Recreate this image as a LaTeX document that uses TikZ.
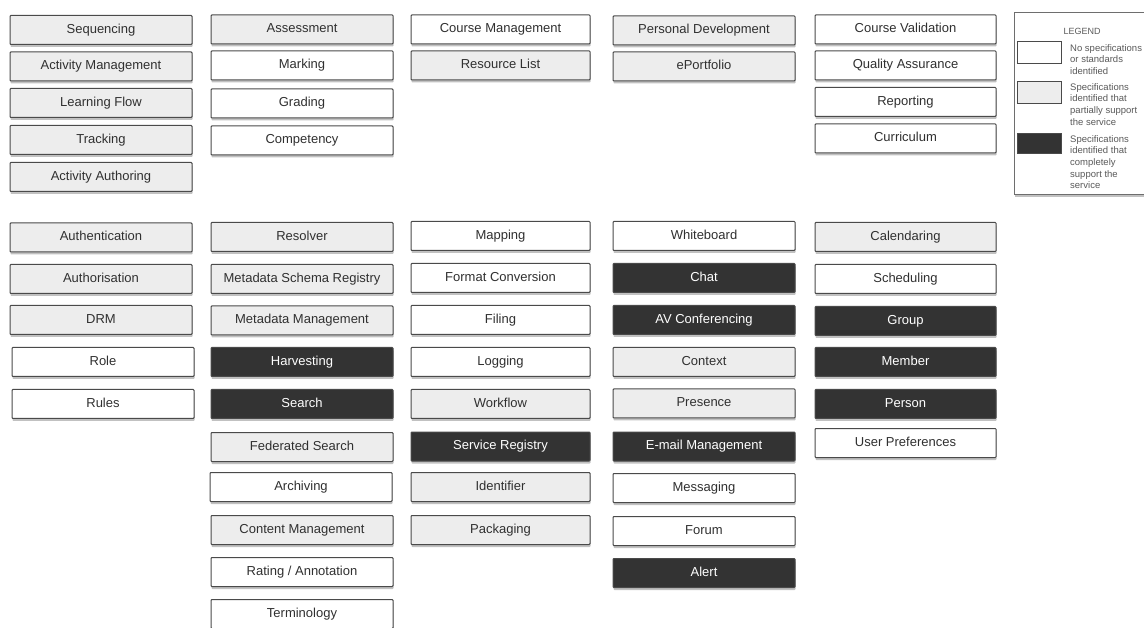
\documentclass[tikz,border=0pt]{standalone}
\usepackage{fontspec}
\setmainfont{Liberation Sans}
\usetikzlibrary{shadows}
\definecolor{lightfill}{HTML}{EDEDED}
\definecolor{darkfill}{HTML}{333333}
\definecolor{edge}{HTML}{4A4A4A}
\definecolor{txt}{HTML}{303030}
\definecolor{legtxt}{HTML}{5A5A5A}
\tikzset{
  svc/.style={draw=edge, line width=1pt, rounded corners=0.8pt, minimum height=29pt, inner sep=0pt,
    text height=9.4pt, text depth=2.6pt,
    font=\fontsize{13}{15}\selectfont, text=txt,
    drop shadow={shadow xshift=0.5pt, shadow yshift=-2.5pt, opacity=0.4, fill=black!60}},
  wbox/.style={svc, fill=white},
  gbox/.style={svc, fill=lightfill},
  dbox/.style={svc, fill=darkfill, text=white},
  cA/.style={minimum width=182pt},
  cB/.style={minimum width=182pt},
  cC/.style={minimum width=179pt},
  cD/.style={minimum width=182pt},
  cE/.style={minimum width=181pt},
  legtext/.style={anchor=north west, inner sep=0pt, align=left, text=legtxt, font=\fontsize{9.5}{11.7}\selectfont},
  swatch/.style={draw=edge, line width=0.9pt, minimum width=44pt, minimum height=22pt, inner sep=0pt}
}
\begin{document}
\begin{tikzpicture}[x=1pt,y=-1pt]
\useasboundingbox (0,0) rectangle (1144,628);
\clip (0,0) rectangle (1144,628);
\fill[white] (0,0) rectangle (1144,628);
% ---- top block ----
\node[gbox,cA] (seq) at (101,30) {Sequencing};
\node[gbox,cA] (actm) at (101,66.5) {Activity Management};
\node[gbox,cA] (lflow) at (101,103) {Learning Flow};
\node[gbox,cA] (track) at (101,140) {Tracking};
\node[gbox,cA] (acta) at (101,177) {Activity Authoring};

\node[gbox,cB] (assess) at (302,29.5) {Assessment};
\node[wbox,cB] (mark) at (302,65.5) {Marking};
\node[wbox,cB] (grade) at (302,103.5) {Grading};
\node[wbox,cB] (comp) at (302,140.5) {Competency};

\node[wbox,cC] (coursem) at (500.5,29.5) {Course Management};
\node[gbox,cC] (reslist) at (500.5,65.5) {Resource List};

\node[gbox,cD] (persdev) at (704,30.5) {Personal Development};
\node[gbox,cD] (eport) at (704,66.5) {ePortfolio};

\node[wbox,cE] (coursev) at (905.5,29.5) {Course Validation};
\node[wbox,cE] (qa) at (905.5,65.5) {Quality Assurance};
\node[wbox,cE] (report) at (905.5,102) {Reporting};
\node[wbox,cE] (curr) at (905.5,138.5) {Curriculum};

% ---- bottom block ----
\node[gbox,cA] (authn) at (101,237.5) {Authentication};
\node[gbox,cA] (authz) at (101,279) {Authorisation};
\node[gbox,cA] (drm) at (101,320) {DRM};
\node[wbox,cA] (role) at (103,362) {Role};
\node[wbox,cA] (rules) at (103,404) {Rules};

\node[gbox,cB] (resolver) at (302,237) {Resolver};
\node[gbox,cB] (msr) at (302,279) {Metadata Schema Registry};
\node[gbox,cB] (mdm) at (302,320.5) {Metadata Management};
\node[dbox,cB] (harvest) at (302,362) {Harvesting};
\node[dbox,cB] (search) at (302,404) {Search};
\node[gbox,cB] (fedsearch) at (302,447) {Federated Search};
\node[wbox,cB] (archive) at (301,487) {Archiving};
\node[gbox,cB] (contentm) at (302,530) {Content Management};
\node[wbox,cB] (rating) at (302,572) {Rating / Annotation};
\node[wbox,cB] (term) at (302,614) {Terminology};

\node[wbox,cC] (mapping) at (500.5,236) {Mapping};
\node[wbox,cC] (formconv) at (500.5,278) {Format Conversion};
\node[wbox,cC] (filing) at (500.5,320) {Filing};
\node[wbox,cC] (logging) at (500.5,362) {Logging};
\node[gbox,cC] (workflow) at (500.5,404) {Workflow};
\node[dbox,cC] (servreg) at (500.5,446.5) {Service Registry};
\node[gbox,cC] (ident) at (500.5,487) {Identifier};
\node[gbox,cC] (pack) at (500.5,530) {Packaging};

\node[wbox,cD] (white) at (704,236) {Whiteboard};
\node[dbox,cD] (chat) at (704,278) {Chat};
\node[dbox,cD] (avconf) at (704,320) {AV Conferencing};
\node[gbox,cD] (context) at (704,362) {Context};
\node[gbox,cD] (presence) at (704,403.5) {Presence};
\node[dbox,cD] (email) at (704,446.5) {E-mail Management};
\node[wbox,cD] (msg) at (704,488) {Messaging};
\node[wbox,cD] (forum) at (704,531) {Forum};
\node[dbox,cD] (alert) at (704,573) {Alert};

\node[gbox,cE] (cal) at (905.5,237) {Calendaring};
\node[wbox,cE] (sched) at (905.5,279) {Scheduling};
\node[dbox,cE] (group) at (905.5,321) {Group};
\node[dbox,cE] (member) at (905.5,362) {Member};
\node[dbox,cE] (person) at (905.5,404) {Person};
\node[wbox,cE] (userpref) at (905.5,443) {User Preferences};

% ---- legend ----
\node[draw=edge!80, line width=1.2pt, fill=white, anchor=north west, minimum width=140pt, minimum height=182pt, inner sep=0pt,
  drop shadow={shadow xshift=0.5pt, shadow yshift=-2.5pt, opacity=0.4, fill=black!60}] (legend) at (1014,12) {};
\node[text=legtxt, font=\fontsize{9}{11}\selectfont, inner sep=0pt] (legtitle) at (1082,31) {LEGEND};
\node[swatch, fill=white, anchor=north west] (swn) at (1017,41) {};
\node[swatch, fill=lightfill, anchor=north west] (swp) at (1017,81) {};
\node[swatch, fill=darkfill, anchor=north west, minimum height=20pt] (swf) at (1017,133) {};
\node[legtext] (ltn) at (1070,44) {No specifications\\or standards\\identified};
\node[legtext] (ltp) at (1070,83) {Specifications\\identified that\\partially support\\the service};
\node[legtext] (ltf) at (1070,135) {Specifications\\identified that\\completely\\support the\\service};
\end{tikzpicture}
\end{document}
